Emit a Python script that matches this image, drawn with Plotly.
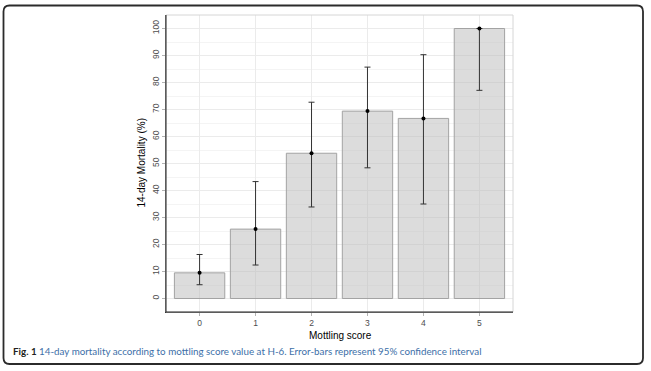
import plotly.graph_objects as go

# ---- data ----
scores = [0, 1, 2, 3, 4, 5]
score_labels = ["0", "1", "2", "3", "4", "5"]
mortality = [9.5, 25.7, 53.8, 69.4, 66.7, 100.0]
ci_upper = [16.3, 43.3, 72.7, 85.7, 90.3, 100.0]
ci_lower = [5.1, 12.4, 33.9, 48.4, 35.0, 77.1]
y_ticks = [0, 10, 20, 30, 40, 50, 60, 70, 80, 90, 100]

err_plus = [u - m for u, m in zip(ci_upper, mortality)]
err_minus = [m - l for m, l in zip(mortality, ci_lower)]

W, H = 651, 371
L, R, T, B = 166, 513, 15, 312


def px(x):
    return (x - L) / (R - L)


def py(y):
    return (B - y) / (B - T)


fig = go.Figure()
fig.add_trace(go.Bar(
    x=scores, y=mortality, width=0.9,
    marker=dict(color="rgba(185,185,185,0.5)", line=dict(color="#a3a3a3", width=1)),
    hoverinfo="skip", showlegend=False,
))
fig.add_trace(go.Scatter(
    x=scores, y=mortality, mode="markers",
    marker=dict(color="#000000", size=4),
    error_y=dict(type="data", symmetric=False, array=err_plus, arrayminus=err_minus,
                 color="#333333", thickness=1, width=3),
    showlegend=False,
))

tickfont = dict(family="Liberation Sans, Arial, sans-serif", size=8.5, color="#4d4d4d")

fig.update_layout(
    width=W, height=H,
    margin=dict(l=L, r=W - R, t=T, b=H - B, autoexpand=False),
    paper_bgcolor="white", plot_bgcolor="white",
    xaxis=dict(
        range=[-0.6, 5.6], tickmode="array", tickvals=scores, ticktext=score_labels,
        showgrid=True, gridcolor="#ebebeb", gridwidth=1, zeroline=False,
        showline=True, linecolor="#333333", linewidth=1,
        ticks="outside", ticklen=3, tickcolor="#b3b3b3", tickfont=tickfont,
    ),
    yaxis=dict(
        range=[-5, 105], tickmode="array", tickvals=y_ticks,
        showgrid=True, gridcolor="#ebebeb", gridwidth=1, zeroline=False,
        minor=dict(dtick=5, tick0=5, showgrid=True, gridcolor="#f4f4f4", gridwidth=0.6),
        showline=True, linecolor="#333333", linewidth=1,
        ticks="outside", ticklen=3, tickcolor="#b3b3b3", tickfont=tickfont,
        tickangle=-90,
    ),
)

# panel border (top/right light gray)
fig.add_shape(type="rect", xref="paper", yref="paper", x0=0, x1=1, y0=0, y1=1,
              line=dict(color="#d6d6d6", width=1), layer="above")
# redraw axis lines above border
fig.add_shape(type="line", xref="paper", yref="paper", x0=0, x1=0, y0=0, y1=1,
              line=dict(color="#333333", width=1), layer="above")
fig.add_shape(type="line", xref="paper", yref="paper", x0=0, x1=1, y0=0, y1=0,
              line=dict(color="#333333", width=1), layer="above")

# outer rounded frame
fx0, fx1, fy0, fy1, r = 3.5, 643, 5.5, 364, 6
path = (
    f"M {px(fx0 + r)} {py(fy0)} L {px(fx1 - r)} {py(fy0)} "
    f"Q {px(fx1)} {py(fy0)} {px(fx1)} {py(fy0 + r)} "
    f"L {px(fx1)} {py(fy1 - r)} Q {px(fx1)} {py(fy1)} {px(fx1 - r)} {py(fy1)} "
    f"L {px(fx0 + r)} {py(fy1)} Q {px(fx0)} {py(fy1)} {px(fx0)} {py(fy1 - r)} "
    f"L {px(fx0)} {py(fy0 + r)} Q {px(fx0)} {py(fy0)} {px(fx0 + r)} {py(fy0)} Z"
)
fig.add_shape(type="path", xref="paper", yref="paper", path=path,
              line=dict(color="#2b2b2b", width=1.8), layer="above")

titlefont = dict(family="Liberation Sans, Arial, sans-serif", size=10, color="#000000")
fig.add_annotation(text="14-day Mortality (%)", xref="paper", yref="paper",
                   x=px(141), y=py((T + B) / 2), textangle=-90, showarrow=False,
                   font=titlefont, xanchor="center", yanchor="middle")
fig.add_annotation(text="Mottling score", xref="paper", yref="paper",
                   x=px(340), y=py(335), showarrow=False,
                   font=titlefont, xanchor="center", yanchor="middle")
fig.add_annotation(
    text="<b>Fig. 1</b> <span style='color:#3d6fa8'>14-day mortality according to mottling score value at H-6. "
         "Error-bars represent 95% confidence interval</span>",
    xref="paper", yref="paper", x=px(11), y=py(351), showarrow=False,
    font=dict(family="Lato, sans-serif", size=9.8, color="#231f20"),
    xanchor="left", yanchor="middle")

fig.write_html("out.html", config={"displayModeBar": False},
               post_script="document.body.style.margin='0';document.body.style.overflow='hidden';")
